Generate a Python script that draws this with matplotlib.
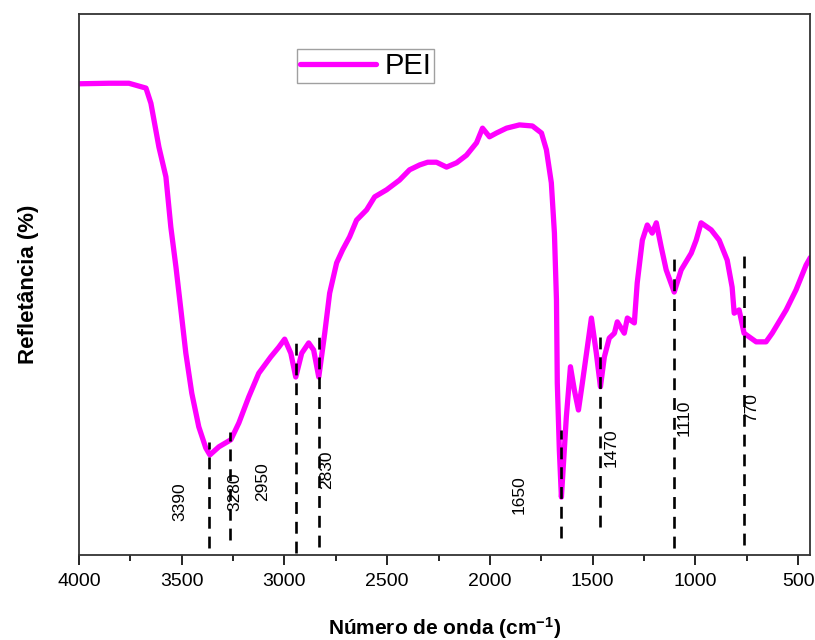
import numpy as np
import matplotlib
matplotlib.use("Agg")
import matplotlib.pyplot as plt
from matplotlib.ticker import MultipleLocator

plt.rcParams['font.family'] = ['Liberation Sans', 'DejaVu Sans']
plt.rcParams['mathtext.fontset'] = 'custom'
plt.rcParams['mathtext.rm'] = 'Liberation Sans:bold'
plt.rcParams['mathtext.bf'] = 'Liberation Sans:bold'
plt.rcParams['mathtext.it'] = 'Liberation Sans:bold'

# Spectre FTIR du PEI (unités relatives)
wavenumber = [4000, 3854, 3757, 3674, 3650, 3611, 3577, 3553, 3528, 3504,
              3480, 3451, 3417, 3383, 3363, 3319, 3261, 3222, 3174, 3125,
              3067, 3028, 2999, 2969, 2945, 2916, 2882, 2858, 2833, 2804,
              2780, 2746, 2717, 2683, 2649, 2600, 2561, 2503, 2440, 2391,
              2342, 2303, 2260, 2211, 2162, 2114, 2065, 2036, 2002, 1968,
              1919, 1856, 1793, 1749, 1725, 1701, 1686, 1676, 1672, 1662,
              1652, 1628, 1608, 1589, 1569, 1550, 1506, 1482, 1462, 1443,
              1419, 1394, 1380, 1346, 1331, 1297, 1283, 1258, 1234, 1210,
              1190, 1166, 1142, 1103, 1069, 1020, 996, 972, 923, 884,
              845, 821, 811, 787, 763, 704, 656, 626, 558, 510,
              461, 440]
reflectance = [87.1, 87.2, 87.2, 86.3, 83.5, 75.4, 69.9, 60.6, 53.2, 45.3,
               37.3, 29.9, 23.7, 19.8, 18.5, 20.0, 21.3, 24.4, 29.2, 33.6,
               36.6, 38.4, 39.9, 37.3, 32.9, 37.3, 39.2, 37.9, 32.9, 41.0,
               48.4, 54.0, 56.4, 58.8, 61.9, 63.8, 66.2, 67.5, 69.3, 71.2,
               72.1, 72.6, 72.6, 71.7, 72.5, 73.9, 76.2, 78.9, 77.3, 78.0,
               78.9, 79.5, 79.3, 78.0, 74.9, 68.8, 59.5, 47.1, 31.8, 19.4,
               10.7, 25.5, 34.8, 30.5, 26.8, 31.8, 43.8, 37.3, 31.1, 36.6,
               40.1, 41.0, 43.1, 41.0, 43.8, 42.9, 50.3, 58.2, 61.0, 59.5,
               61.4, 56.9, 52.7, 48.6, 52.7, 55.8, 58.2, 61.4, 60.1, 58.2,
               54.5, 49.5, 44.7, 45.3, 41.0, 39.4, 39.4, 41.0, 45.3, 49.0,
               53.6, 55.0]

# Bandes marquées
band_labels = ["3390", "3280", "2950", "2830", "1650", "1470", "1110", "770"]
band_pos = [3368, 3266, 2945, 2833, 1652, 1462, 1103, 763]
band_top = [20.9, 22.7, 39.2, 40.3, 23.1, 41.0, 55.1, 55.8]
band_bottom = [1.3, 2.8, 0.4, 1.5, 3.1, 5.2, 1.3, 1.8]
label_x = [3509, 3242, 3106, 2794, 1856, 1409, 1054, 724]
label_y = [9.8, 11.6, 13.5, 15.7, 11.1, 19.8, 25.3, 27.2]

fig = plt.figure(figsize=(8.15, 6.4), dpi=100)
ax = fig.add_axes([79 / 815, 85 / 640, 731 / 815, 541 / 640])

ax.plot(wavenumber, reflectance, color='#FF00FF', lw=3.8, label='PEI',
        solid_capstyle='round', solid_joinstyle='round')

for pos, top, bot in zip(band_pos, band_top, band_bottom):
    ax.plot([pos, pos], [bot, top], color='black', lw=1.9,
            linestyle=(0, (4.5, 3)))

for lab, x, y in zip(band_labels, label_x, label_y):
    ax.text(x, y, lab, rotation=90, ha='center', va='center', fontsize=12.5)

ax.set_xlim(4000, 442)
ax.set_ylim(0, 100)
ax.xaxis.set_major_locator(MultipleLocator(500))
ax.xaxis.set_minor_locator(MultipleLocator(250))
ax.tick_params(axis='x', which='major', direction='out', length=7, width=1.2,
               labelsize=14, pad=6)
ax.tick_params(axis='x', which='minor', direction='out', length=4.5, width=1.2)
ax.set_yticks([])
for sp in ax.spines.values():
    sp.set_linewidth(1.3)
    sp.set_color('#333333')

ax.set_xlabel('Número de onda (cm$^{-1}$)', fontsize=15, fontweight='bold',
              labelpad=18)
ax.set_ylabel('Refletância (%)', fontsize=16, fontweight='bold', labelpad=29)

leg = ax.legend(loc='upper left', bbox_to_anchor=(0.298, 0.935), fontsize=21,
                frameon=True, fancybox=False, handlelength=2.6,
                borderpad=0.1, handletextpad=0.3, borderaxespad=0)
leg.get_frame().set_edgecolor('#888888')
leg.get_frame().set_linewidth(1.0)

fig.savefig('out.png', dpi=100)
